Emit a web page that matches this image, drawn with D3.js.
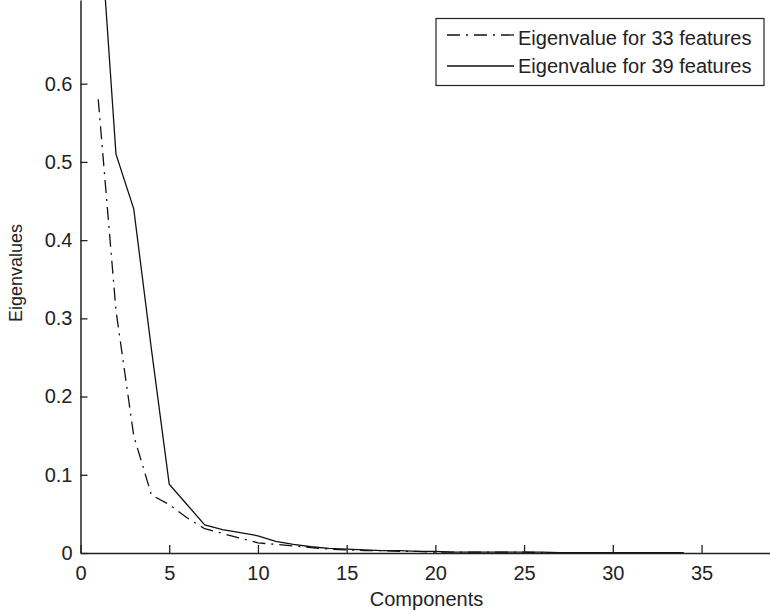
<!DOCTYPE html>
<html><head><meta charset="utf-8">
<script src="https://cdn.jsdelivr.net/npm/d3@7"></script>
<style>body{margin:0;background:#fff}svg{display:block}</style>
</head><body><svg id="c" width="770" height="613"></svg>
<script>
const components33 = [1,2,3,4,5,6,7,8,9,10,11,12,13,14,15,16,17,18,19,20,21,22,23,24,25,26,27,28,29,30,31,32,33];
const eigen33 = [0.58,0.31,0.15,0.074,0.062,0.045,0.031,0.025,0.019,0.013,0.011,0.009,0.007,0.005,0.004,0.003,0.003,0.002,0.002,0.001,0.001,0.001,0.001,0.001,0.001,0.0005,0.0005,0.0005,0.0005,0.0005,0.0003,0.0003,0.0003];
const components39 = [1,2,3,4,5,6,7,8,9,10,11,12,13,14,15,16,17,18,19,20,21,22,23,24,25,26,27,28,29,30,31,32,33,34];
const eigen39 = [0.84,0.51,0.44,0.26,0.088,0.062,0.036,0.030,0.026,0.022,0.015,0.011,0.008,0.006,0.005,0.004,0.003,0.003,0.002,0.002,0.001,0.001,0.001,0.001,0.001,0.001,0.0005,0.0005,0.0005,0.0005,0.0005,0.0005,0.0003,0.0003];
const xTicks = [0,5,10,15,20,25,30,35];
const yTicks = [0,0.1,0.2,0.3,0.4,0.5,0.6];
const seriesLabels = ["Eigenvalue for 33 features","Eigenvalue for 39 features"];
const xTitle = "Components";
const yTitle = "Eigenvalues";

const FONT = "'Liberation Sans', Arial, sans-serif";
const INK = "#222";
const svg = d3.select("#c");
const x = d3.scaleLinear().domain([0,39]).range([80.5,772.5]);
const y = d3.scaleLinear().domain([0,0.707]).range([553,0]);

svg.append("defs").append("clipPath").attr("id","plot")
  .append("rect").attr("x",80.5).attr("y",0).attr("width",700).attr("height",553);

const line = d3.line().x(d=>x(d[0])).y(d=>y(d[1]));
const g = svg.append("g").attr("clip-path","url(#plot)");
g.append("path").datum(components33.map((c,i)=>[c,eigen33[i]]))
  .attr("d",line).attr("fill","none").attr("stroke","#111").attr("stroke-width",1.3)
  .attr("stroke-dasharray","13,6,2,6");
g.append("path").datum(components39.map((c,i)=>[c,eigen39[i]]))
  .attr("d",line).attr("fill","none").attr("stroke","#111").attr("stroke-width",1.3);

const xa = svg.append("g").attr("transform","translate(0,553)")
  .call(d3.axisBottom(x).tickValues(xTicks).tickSizeInner(-8).tickSizeOuter(0).tickPadding(13).tickFormat(d3.format("d")));
const ya = svg.append("g").attr("transform","translate(80.5,0)")
  .call(d3.axisLeft(y).tickValues(yTicks).tickSizeInner(-7).tickSizeOuter(0).tickPadding(8)
    .tickFormat(d=>d===0?"0":d3.format(".1f")(d)));
[xa,ya].forEach(a=>{
  a.select(".domain").attr("stroke",INK).attr("stroke-width",1.5);
  a.selectAll(".tick line").attr("stroke",INK).attr("stroke-width",1.3);
  a.selectAll(".tick text").attr("fill",INK).style("font-family",FONT).style("font-size","20px");
});

svg.append("text").attr("x",(x(0)+x(39))/2).attr("y",606).attr("text-anchor","middle")
  .attr("fill",INK).style("font-family",FONT).style("font-size","20px").text(xTitle);
svg.append("text").attr("transform","translate(22,273) rotate(-90)").attr("text-anchor","middle")
  .attr("fill",INK).style("font-family",FONT).style("font-size","18px").text(yTitle);

const lg = svg.append("g");
lg.append("rect").attr("x",436).attr("y",18.5).attr("width",328).attr("height",67)
  .attr("fill","#fff").attr("stroke",INK).attr("stroke-width",1.2);
const rows = [{dash:"13,6,2,6", ly:35, ty:45},{dash:null, ly:66, ty:73}];
rows.forEach((r,i)=>{
  lg.append("line").attr("x1",447).attr("x2",514).attr("y1",r.ly).attr("y2",r.ly)
    .attr("stroke","#111").attr("stroke-width",1.3).attr("stroke-dasharray",r.dash);
  lg.append("text").attr("x",518).attr("y",r.ty).attr("fill",INK)
    .style("font-family",FONT).style("font-size","20px").text(seriesLabels[i]);
});
</script></body></html>
